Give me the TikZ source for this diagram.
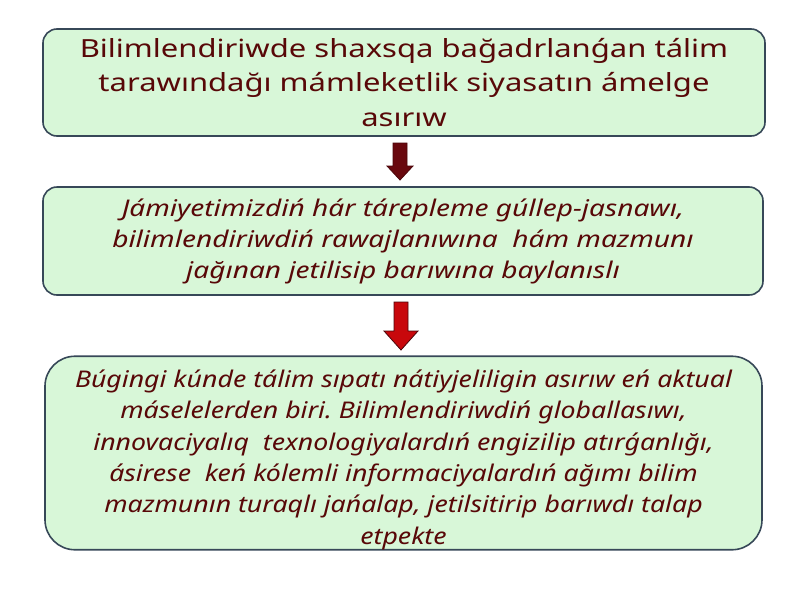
\documentclass[tikz,border=0pt]{standalone}
\usepackage{fontspec}
\setmainfont{Noto Sans}
\newfontfamily\wideplain[FakeStretch=1.24]{Noto Sans}
\newfontfamily\wideslant[FakeStretch=1.22]{Noto Sans}
\newfontfamily\narrowslant[FakeStretch=1.16]{Noto Sans}
\usetikzlibrary{positioning}
\definecolor{boxfill}{RGB}{216,247,216}
\definecolor{boxline}{RGB}{55,72,88}
\definecolor{txtred}{RGB}{88,8,8}
\definecolor{darkarrow}{RGB}{105,8,14}
\definecolor{redarrow}{RGB}{200,8,12}
\frenchspacing

% a block arrow pointing down: x, top y, bottom y, half shaft, half head, head length, colour
\newcommand{\dnarrow}[7]{%
  \filldraw[draw=darkarrow!70!black,fill=#7,line width=0.8pt,line join=miter]
    (#1-#4,#2) -- (#1+#4,#2) -- (#1+#4,#3-#6) -- (#1+#5,#3-#6) -- (#1,#3)
    -- (#1-#5,#3-#6) -- (#1-#4,#3-#6) -- cycle;}

\begin{document}
\begin{tikzpicture}[x=1pt,y=-1pt,
    infobox/.style={draw=boxline,fill=boxfill,line width=1.6pt,rounded corners=14pt,
      align=center,text=txtred,inner sep=0pt},
    plain/.style={font=\wideplain\fontsize{25}{34.5}\selectfont},
    slanted/.style={font=\wideslant\fontsize{23}{31}\selectfont\itshape},
    slantedlong/.style={font=\narrowslant\fontsize{23}{31.4}\selectfont\itshape}]
    % the page
    \useasboundingbox[fill=white] (0,0) rectangle (800,600);

    % the three boxes
    \node[infobox,plain,minimum width=722pt,minimum height=107pt] (policy) at (404,82.5)
        {Bilimlendiriwde shaxsqa bağadrlanǵan tálim\\
         tarawındağı mámleketlik siyasatın ámelge\\
         asırıw};
    \node[infobox,slanted,minimum width=720pt,minimum height=108pt] (society) at (403,241)
        {Jámiyetimizdiń hár tárepleme gúllep-jasnawı,\\
         bilimlendiriwdiń rawajlanıwına~~hám mazmunı\\
         jağınan jetilisip barıwına baylanıslı};
    \node[infobox,slantedlong,rounded corners=30pt,minimum width=717pt,minimum height=192pt] (quality) at (403.5,453)
        {\rule{0pt}{31pt}Búgingi kúnde tálim sıpatı nátiyjeliligin asırıw eń aktual\\
         máselelerden biri. Bilimlendiriwdiń globallasıwı,\\
         innovaciyalıq~~texnologiyalardıń engizilip atırǵanlığı,\\
         ásirese~~keń kólemli informaciyalardıń ağımı bilim\\
         mazmunın turaqlı jańalap, jetilsitirip barıwdı talap\\
         etpekte};

    % the arrows between them
    \dnarrow{400}{143}{180}{7}{13}{14}{darkarrow}
    \dnarrow{401}{302}{350}{7}{17}{19}{redarrow}
\end{tikzpicture}
\end{document}
